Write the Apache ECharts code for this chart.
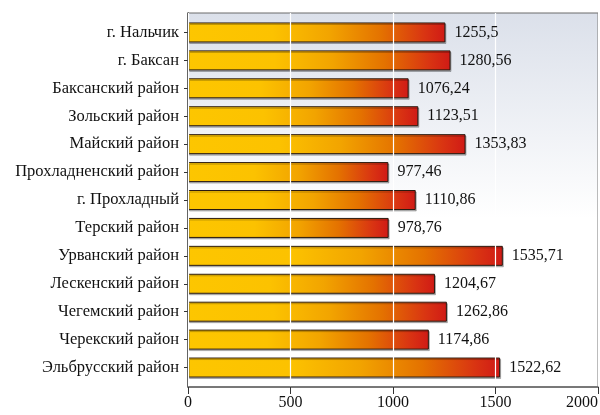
<!DOCTYPE html>
<html>
<head>
<meta charset="utf-8">
<script src="https://cdn.jsdelivr.net/npm/echarts@6/dist/echarts.min.js"></script>
<style>
  html, body { margin: 0; padding: 0; background: #fff; }
  #chart { width: 600px; height: 415px; }
</style>
</head>
<body>
<div id="chart"></div>
<script>
const districts = [
  'г. Нальчик', 'г. Баксан', 'Баксанский район', 'Зольский район', 'Майский район',
  'Прохладненский район', 'г. Прохладный', 'Терский район', 'Урванский район',
  'Лескенский район', 'Чегемский район', 'Черекский район', 'Эльбрусский район'
]
const values = [1255.5, 1280.56, 1076.24, 1123.51, 1353.83, 977.46, 1110.86, 978.76, 1535.71, 1204.67, 1262.86, 1174.86, 1522.62]
const valueTicks = [0, 500, 1000, 1500, 2000]

const serif = '"Liberation Serif", "DejaVu Serif", serif'
const chart = echarts.init(document.getElementById('chart'))

const barFill = new echarts.graphic.LinearGradient(0, 0, 1, 0, [
  { offset: 0, color: '#fdc600' },
  { offset: 0.33, color: '#fcc200' },
  { offset: 0.55, color: '#f2a400' },
  { offset: 0.75, color: '#e47200' },
  { offset: 0.92, color: '#d93412' },
  { offset: 1, color: '#d01a16' }
])

chart.setOption({
  animation: false,
  grid: [
    // bars
    { left: 188, right: 2, top: 18.5, bottom: 33.5, outerBoundsMode: 'none' },
    // frame, background, bottom axis
    {
      left: 188, right: 2, top: 13, bottom: 28,
      outerBoundsMode: 'none',
      show: true,
      borderColor: '#6b6b6b',
      borderWidth: 1,
      backgroundColor: new echarts.graphic.LinearGradient(0, 0, 0, 1, [
        { offset: 0, color: '#dbe0ea' },
        { offset: 0.55, color: '#ffffff' },
        { offset: 1, color: '#ffffff' }
      ])
    }
  ],
  xAxis: [
    { gridIndex: 0, type: 'value', min: 0, max: 2000, show: false },
    {
      gridIndex: 1, type: 'value', min: 0, max: 2000, interval: 500, z: 5,
      axisLine: { show: true, lineStyle: { color: '#666', width: 1.5 } },
      axisTick: { show: true, length: 7, lineStyle: { color: '#333' } },
      axisLabel: {
        fontFamily: serif, fontSize: 16, color: '#111', margin: 8,
        alignMaxLabel: 'right',
        formatter: (v) => valueTicks.includes(v) ? String(v) : ''
      },
      splitLine: { show: true, lineStyle: { color: '#ffffff', width: 1.2 } }
    }
  ],
  yAxis: [
    {
      gridIndex: 0, type: 'category', data: districts, inverse: true,
      axisLine: { show: false },
      axisTick: { show: true, alignWithLabel: true, length: 4, lineStyle: { color: '#333' } },
      axisLabel: { fontFamily: serif, fontSize: 16.5, color: '#111', margin: 9 },
      splitLine: { show: false }
    },
    {
      gridIndex: 1, type: 'value', min: 0, max: 1,
      axisLine: { show: true, lineStyle: { color: '#333', width: 1.5 } },
      axisTick: { show: false },
      axisLabel: { show: false },
      splitLine: { show: false }
    }
  ],
  series: [
    {
      type: 'bar',
      xAxisIndex: 0,
      yAxisIndex: 0,
      barWidth: 20,
      data: values,
      itemStyle: {
        color: barFill,
        borderColor: '#2a1a10',
        borderWidth: 1,
        shadowColor: 'rgba(0,0,0,0.25)',
        shadowOffsetX: 1,
        shadowOffsetY: 1.5
      }
    },
    {
      // value labels, kept above the white grid lines
      type: 'bar',
      xAxisIndex: 0,
      yAxisIndex: 0,
      barWidth: 20,
      barGap: '-100%',
      z: 8,
      silent: true,
      data: values,
      itemStyle: { color: 'transparent' },
      label: {
        show: true,
        position: 'right',
        distance: 9,
        fontFamily: serif,
        fontSize: 16,
        color: '#111',
        formatter: (p) => String(p.value).replace('.', ',')
      }
    }
  ]
})
</script>
</body>
</html>
